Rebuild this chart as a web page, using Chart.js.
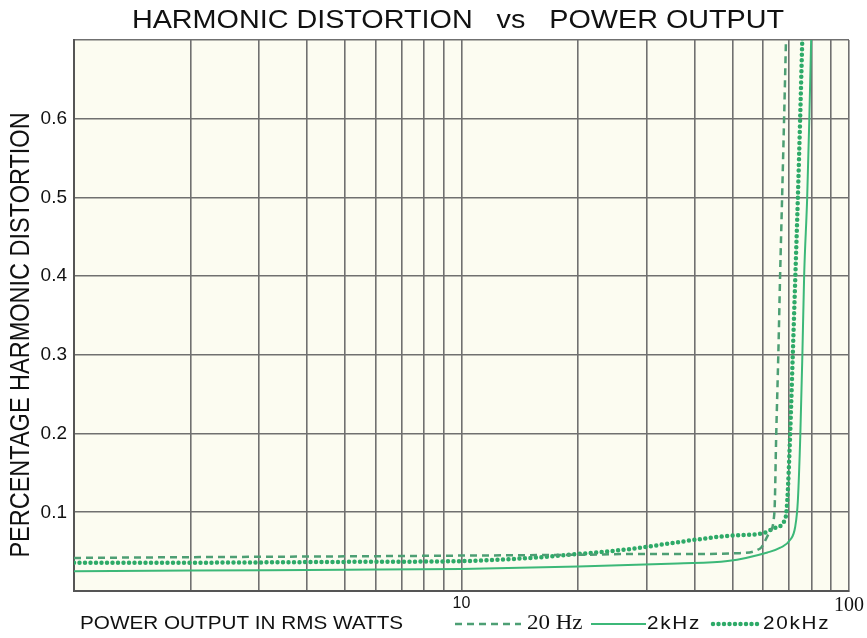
<!DOCTYPE html>
<html>
<head>
<meta charset="utf-8">
<script src="https://cdn.jsdelivr.net/npm/chart.js@4.4.0/dist/chart.umd.min.js"></script>
<style>
html,body{margin:0;padding:0;background:#fff;}
#wrap{width:867px;height:638px;position:relative;}
</style>
</head>
<body>
<div id="wrap"><canvas id="c" width="867" height="638"></canvas></div>
<script>
// ---- data ----
const xTickValues = [1,2,3,4,5,6,7,8,9,10,20,30,40,50,60,70,80,90,100];
const xTickLabels = {10:'10', 100:'100'};
const yTickValues = [0.1,0.2,0.3,0.4,0.5,0.6];

const x20Hz = [1, 2, 5, 10, 20, 28.5, 40, 51.5, 59, 62.3, 64.2, 64.9, 65.7, 66.4, 67.2, 68.0, 68.8];
const y20Hz = [0.042, 0.043, 0.044, 0.045, 0.046, 0.047, 0.047, 0.048, 0.054, 0.074, 0.1, 0.2, 0.3, 0.4, 0.5, 0.6, 0.705];

const x2kHz = [1, 2, 5, 10, 20, 36.1, 48.6, 61.6, 66.5, 70.5, 72.6, 73.8, 74.9, 75.8, 76.6, 78.0, 79.0, 79.9];
const y2kHz = [0.025, 0.026, 0.027, 0.028, 0.031, 0.035, 0.038, 0.049, 0.055, 0.065, 0.081, 0.115, 0.2, 0.3, 0.4, 0.5, 0.6, 0.705];

const x20kHz = [1, 2, 5, 10, 15, 20, 28, 36.1, 48.6, 60.5, 64.2, 68.5, 69.3, 70.5, 71.6, 72.7, 73.8, 74.8, 75.8];
const y20kHz = [0.036, 0.036, 0.037, 0.038, 0.042, 0.047, 0.054, 0.062, 0.070, 0.074, 0.080, 0.092, 0.115, 0.2, 0.3, 0.4, 0.5, 0.6, 0.705];

const seriesNames = ['20 Hz', '2kHz', '20kHz'];
const titleText = 'HARMONIC DISTORTION   vs   POWER OUTPUT';
const xTitle = 'POWER OUTPUT IN RMS WATTS';
const yTitle = 'PERCENTAGE HARMONIC DISTORTION';

const C_DASH = '#4d9f74';
const C_SOLID = '#3cb878';
const C_DOT = '#2eaa68';
const SANS = '"Liberation Sans", Arial, sans-serif';
const SERIF = '"Liberation Serif", "Times New Roman", serif';
const STRETCH = 1.15;

function pts(xs, ys){ return xs.map((x,i)=>({x:x, y:ys[i]})); }

function stretchedText(ctx, text, x, y, font, align, sx, spacing){
  ctx.save();
  ctx.translate(x, y);
  ctx.scale(sx, 1);
  ctx.font = font;
  ctx.textAlign = align;
  ctx.letterSpacing = spacing || '0px';
  ctx.fillText(text, 0, 0);
  ctx.restore();
}

const decorPlugin = {
  id:'decor',
  beforeDraw(chart){
    const {ctx, chartArea:a} = chart;
    ctx.save();
    ctx.fillStyle = '#ffffff';
    ctx.fillRect(0,0,chart.width,chart.height);
    ctx.fillStyle = '#fcfcf1';
    ctx.fillRect(a.left, a.top, a.right-a.left, a.bottom-a.top);
    ctx.restore();
  },
  afterDraw(chart){
    const {ctx} = chart;
    ctx.save();
    ctx.fillStyle = '#111';
    ctx.textBaseline = 'middle';
    // title
    stretchedText(ctx, titleText, 458, 21, '25px ' + SANS, 'center', STRETCH);
    // y title (rotated)
    ctx.save();
    ctx.translate(22, 335);
    ctx.scale(STRETCH, 1);
    ctx.rotate(-Math.PI/2);
    ctx.font = '23.5px ' + SANS;
    ctx.textAlign = 'center';
    ctx.fillText(yTitle, 0, 0);
    ctx.restore();
    // x title
    stretchedText(ctx, xTitle, 80, 624, '18px ' + SANS, 'left', STRETCH);
    // legend
    const ly = 624;
    ctx.lineWidth = 2.5; ctx.strokeStyle = C_DASH; ctx.setLineDash([7,5]);
    ctx.beginPath(); ctx.moveTo(455, ly); ctx.lineTo(521, ly); ctx.stroke();
    ctx.setLineDash([]);
    stretchedText(ctx, seriesNames[0], 527, ly, '20px ' + SERIF, 'left', STRETCH);
    ctx.lineWidth = 2; ctx.strokeStyle = C_SOLID;
    ctx.beginPath(); ctx.moveTo(591, ly); ctx.lineTo(646, ly); ctx.stroke();
    stretchedText(ctx, seriesNames[1], 647, ly, '18px ' + SANS, 'left', STRETCH, '1.5px');
    ctx.lineWidth = 4.5; ctx.strokeStyle = C_DOT; ctx.lineCap = 'round'; ctx.setLineDash([0,5.5]);
    ctx.beginPath(); ctx.moveTo(713, ly); ctx.lineTo(758, ly); ctx.stroke();
    ctx.setLineDash([]);
    stretchedText(ctx, seriesNames[2], 763, ly, '18px ' + SANS, 'left', STRETCH, '1.5px');
    ctx.restore();
  }
};

new Chart(document.getElementById('c'), {
  type:'line',
  data:{
    datasets:[
      {label:seriesNames[0], data:pts(x20Hz,y20Hz), borderColor:C_DASH, borderWidth:2.5, borderDash:[7,5], pointRadius:0, cubicInterpolationMode:'monotone', fill:false},
      {label:seriesNames[1], data:pts(x2kHz,y2kHz), borderColor:C_SOLID, borderWidth:2, pointRadius:0, cubicInterpolationMode:'monotone', fill:false},
      {label:seriesNames[2], data:pts(x20kHz,y20kHz), borderColor:C_DOT, borderWidth:4.5, borderDash:[0,5.5], borderCapStyle:'round', pointRadius:0, cubicInterpolationMode:'monotone', fill:false}
    ]
  },
  options:{
    responsive:false,
    animation:false,
    devicePixelRatio:1,
    layout:{padding:{top:40, right:15, left:0, bottom:0}},
    plugins:{legend:{display:false}, title:{display:false}, tooltip:{enabled:false}},
    scales:{
      x:{
        type:'logarithmic', min:1, max:100,
        afterBuildTicks(s){ s.ticks = xTickValues.map(v=>({value:v})); },
        afterFit(s){ s.height = 47; },
        ticks:{
          autoSkip:false, maxRotation:0, padding:3, color:'#111',
          callback:(v)=> xTickLabels[v] || '',
          font:(ctx)=> (ctx.tick && ctx.tick.value===100) ? {family:SERIF, size:20} : {family:SANS, size:16}
        },
        grid:{color:'#707070', lineWidth:1.6, drawTicks:false},
        border:{color:'#555', width:2}
      },
      y:{
        min:0, max:0.7,
        afterBuildTicks(s){ s.ticks = [0].concat(yTickValues, [0.7]).map(v=>({value:v})); },
        afterFit(s){ s.width = 74; },
        ticks:{
          padding:7, color:'#111',
          callback:(v)=> yTickValues.some(t=>Math.abs(t-v)<1e-6) ? v.toFixed(1) : '',
          font:{family:SANS, size:19}
        },
        grid:{color:'#707070', lineWidth:1.6, drawTicks:false},
        border:{color:'#555', width:2}
      }
    }
  },
  plugins:[decorPlugin]
});
</script>
</body>
</html>
